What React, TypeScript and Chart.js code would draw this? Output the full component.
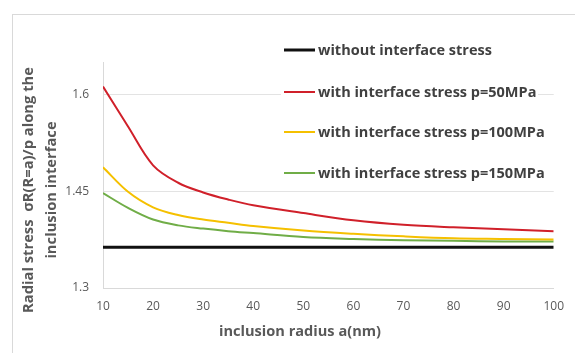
import React, { useEffect, useRef } from "react";
import { Chart, registerables } from "chart.js";

Chart.register(...registerables);

const radii = [10, 15, 20, 25, 30, 35, 40, 50, 60, 70, 80, 90, 100];
const withoutStress = [1.363, 1.363, 1.363, 1.363, 1.363, 1.363, 1.363, 1.363, 1.363, 1.363, 1.363, 1.363, 1.363];
const stress50 = [1.612, 1.55, 1.49, 1.463, 1.448, 1.437, 1.428, 1.416, 1.405, 1.398, 1.394, 1.391, 1.388];
const stress100 = [1.487, 1.449, 1.425, 1.413, 1.406, 1.401, 1.396, 1.389, 1.384, 1.38, 1.377, 1.376, 1.375];
const stress150 = [1.447, 1.424, 1.406, 1.397, 1.392, 1.388, 1.385, 1.379, 1.376, 1.374, 1.373, 1.372, 1.372];
const yTicks = [1.3, 1.45, 1.6];
const seriesNames = [
  "without interface stress",
  "with interface stress p=50MPa",
  "with interface stress p=100MPa",
  "with interface stress p=150MPa",
];
const seriesColors = ["#111111", "#D0202A", "#F5C000", "#70AD47"];
const seriesWidths = [3, 2, 2, 2];
const xTitle = "inclusion radius a(nm)";
const yTitleLines = ["Radial stress  σR(R=a)/p along the", "inclusion interface"];

const FONT = "'Open Sans', Lato, sans-serif";

function fitFont(ctx: CanvasRenderingContext2D, text: string, target: number, base: number) {
  ctx.font = `bold ${base}px ${FONT}`;
  const w = ctx.measureText(text).width;
  const size = (base * target) / w;
  ctx.font = `bold ${size.toFixed(2)}px ${FONT}`;
}

export default function App() {
  const ref = useRef<HTMLCanvasElement | null>(null);

  useEffect(() => {
    const canvas = ref.current;
    if (!canvas) return;
    const all = [withoutStress, stress50, stress100, stress150];

    const framePlugin = {
      id: "frame",
      beforeDraw(chart: any) {
        const ctx = chart.ctx;
        ctx.save();
        ctx.fillStyle = "#ffffff";
        ctx.fillRect(0, 0, chart.width, chart.height);
        ctx.strokeStyle = "#d9d9d9";
        ctx.lineWidth = 1;
        ctx.strokeRect(12.5, 14.5, 700, 500);
        ctx.restore();
      },
    };

    const legendPlugin = {
      id: "customLegend",
      beforeDatasetsDraw(chart: any) {
        const ctx = chart.ctx;
        ctx.save();
        ctx.fillStyle = "#ffffff";
        ctx.fillRect(281, 36, 257, 150);
        ctx.restore();
      },
      afterDraw(chart: any) {
        const ctx = chart.ctx;
        const rows = [50, 92, 132, 173];
        ctx.save();
        fitFont(ctx, seriesNames[0], 174, 13);
        ctx.textBaseline = "middle";
        ctx.textAlign = "left";
        seriesNames.forEach((name, i) => {
          ctx.strokeStyle = seriesColors[i];
          ctx.lineWidth = seriesWidths[i];
          ctx.beginPath();
          ctx.moveTo(284, rows[i]);
          ctx.lineTo(315, rows[i]);
          ctx.stroke();
          ctx.fillStyle = "#404040";
          ctx.fillText(name, 318, rows[i] + 1);
        });
        ctx.restore();
      },
    };

    const titlePlugin = {
      id: "axisTitles",
      afterDraw(chart: any) {
        const ctx = chart.ctx;
        ctx.save();
        ctx.fillStyle = "#595959";
        ctx.textAlign = "center";
        ctx.textBaseline = "middle";
        fitFont(ctx, xTitle, 162, 16);
        ctx.fillText(xTitle, 300, 332);
        fitFont(ctx, yTitleLines[0], 246, 14);
        const xs = [29, 52];
        yTitleLines.forEach((line, i) => {
          ctx.save();
          ctx.translate(xs[i], 190);
          ctx.rotate(-Math.PI / 2);
          ctx.fillText(line, 0, 0);
          ctx.restore();
        });
        ctx.restore();
      },
    };

    const chart = new Chart(canvas, {
      type: "line",
      data: {
        datasets: all.map((vals, i) => ({
          label: seriesNames[i],
          data: radii.map((r, j) => ({ x: r, y: vals[j] })),
          borderColor: seriesColors[i],
          backgroundColor: seriesColors[i],
          borderWidth: seriesWidths[i],
          pointRadius: 0,
          tension: 0.35,
          fill: false,
        })),
      },
      options: {
        responsive: false,
        animation: false,
        devicePixelRatio: 1,
        layout: { padding: { left: 0, top: 62, right: 16, bottom: 0 } },
        plugins: {
          legend: { display: false },
          tooltip: { enabled: false },
          title: { display: false },
        },
        scales: {
          x: {
            type: "linear",
            min: 10,
            max: 100,
            ticks: {
              stepSize: 10,
              color: "#595959",
              font: { family: FONT, size: 12 },
              padding: 11,
            },
            grid: { display: false, drawTicks: false },
            border: { display: true, color: "#d9d9d9" },
            afterFit(scale: any) {
              scale.height = 65;
            },
          },
          y: {
            type: "linear",
            min: 1.3,
            max: 1.65,
            afterBuildTicks(scale: any) {
              scale.ticks = yTicks.map((v) => ({ value: v }));
            },
            ticks: {
              color: "#595959",
              font: { family: FONT, size: 12 },
              padding: 14,
              callback: (v: any) => String(Math.round(Number(v) * 100) / 100),
            },
            grid: { color: "#e3e3e3", drawTicks: false },
            border: { display: true, color: "#d9d9d9" },
            afterFit(scale: any) {
              scale.width = 103;
            },
          },
        },
      },
      plugins: [framePlugin, legendPlugin, titlePlugin],
    });
    return () => chart.destroy();
  }, []);

  return (
    <div style={{ position: "absolute", left: 0, top: 0, width: 575, height: 353 }}>
      <canvas ref={ref} width={575} height={353} />
    </div>
  );
}
